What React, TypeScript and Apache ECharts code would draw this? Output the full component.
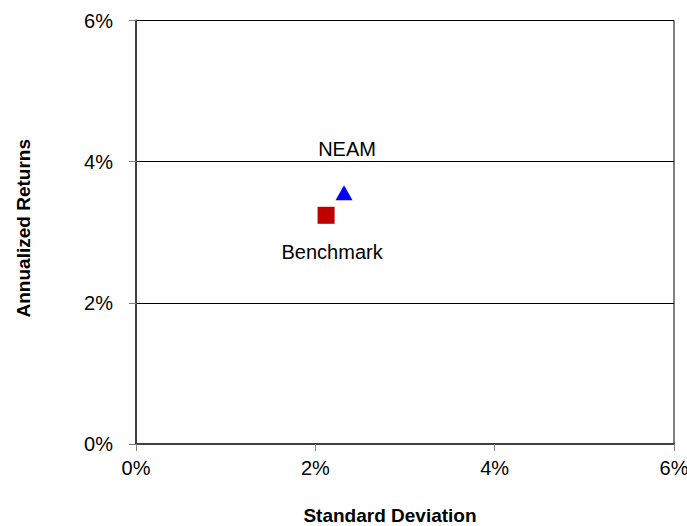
import React, { useEffect, useRef } from "react";
import * as echarts from "echarts";

const xTicks = [0, 2, 4, 6];
const yTicks = [0, 2, 4, 6];
const neam = [[2.32, 3.56]];
const benchmark = [[2.12, 3.24]];
const seriesNames = ["NEAM", "Benchmark"];
const xTitle = "Standard Deviation";
const yTitle = "Annualized Returns";

const FONT = "'Liberation Sans', Arial, sans-serif";

export default function App() {
  const ref = useRef<HTMLDivElement>(null);
  useEffect(() => {
    if (!ref.current) return;
    const chart = echarts.init(ref.current, null, { renderer: "svg" });
    chart.setOption({
      animation: false,
      backgroundColor: "#fff",
      textStyle: { fontFamily: FONT },
      grid: {
        left: 136,
        top: 20.5,
        right: 13,
        bottom: 82,
        outerBoundsMode: "none",
        containLabel: false,
        show: true,
        borderColor: "#000",
        borderWidth: 1,
        backgroundColor: "transparent",
      },
      xAxis: {
        type: "value",
        min: xTicks[0],
        max: xTicks[xTicks.length - 1],
        interval: 2,
        name: xTitle,
        nameLocation: "middle",
        nameGap: 62,
        nameTextStyle: { fontFamily: FONT, fontSize: 19, fontWeight: "bold", color: "#000", padding: [0, 30, 0, 0] },
        axisLine: { show: true, lineStyle: { color: "#404040", width: 2 } },
        axisTick: { show: true, length: 7, lineStyle: { color: "#808080", width: 1 } },
        axisLabel: { fontFamily: FONT, fontSize: 20, color: "#000", margin: 14, formatter: (v: number) => `${v}%` },
        splitLine: { show: false },
      },
      yAxis: {
        type: "value",
        min: yTicks[0],
        max: yTicks[yTicks.length - 1],
        interval: 2,
        name: yTitle,
        nameLocation: "middle",
        nameGap: 103,
        nameRotate: 90,
        nameTextStyle: { fontFamily: FONT, fontSize: 19, fontWeight: "bold", color: "#000", padding: [0, 0, 0, 8] },
        axisLine: { show: true, lineStyle: { color: "#404040", width: 2 } },
        axisTick: { show: true, length: 7, lineStyle: { color: "#808080", width: 1 } },
        axisLabel: { fontFamily: FONT, fontSize: 20, color: "#000", margin: 23, formatter: (v: number) => `${v}%` },
        splitLine: { show: true, lineStyle: { color: "#000", width: 1 } },
      },
      series: [
        {
          name: seriesNames[0],
          type: "scatter",
          data: neam,
          symbol: "triangle",
          symbolSize: [17, 15],
          itemStyle: { color: "#0000FF", opacity: 1 },
          label: {
            show: true,
            formatter: seriesNames[0],
            position: "top",
            distance: 26,
            offset: [3, 0],
            fontFamily: FONT,
            fontSize: 20,
            color: "#000",
          },
        },
        {
          name: seriesNames[1],
          type: "scatter",
          data: benchmark,
          symbol: "rect",
          symbolSize: 17,
          itemStyle: { color: "#C00000", opacity: 1 },
          label: {
            show: true,
            formatter: seriesNames[1],
            position: "bottom",
            distance: 18,
            offset: [6, 0],
            fontFamily: FONT,
            fontSize: 20,
            color: "#000",
          },
        },
      ],
    });
    return () => chart.dispose();
  }, []);
  return (
    <div
      ref={ref}
      style={{ position: "fixed", left: 0, top: 0, width: 687, height: 526 }}
    />
  );
}
